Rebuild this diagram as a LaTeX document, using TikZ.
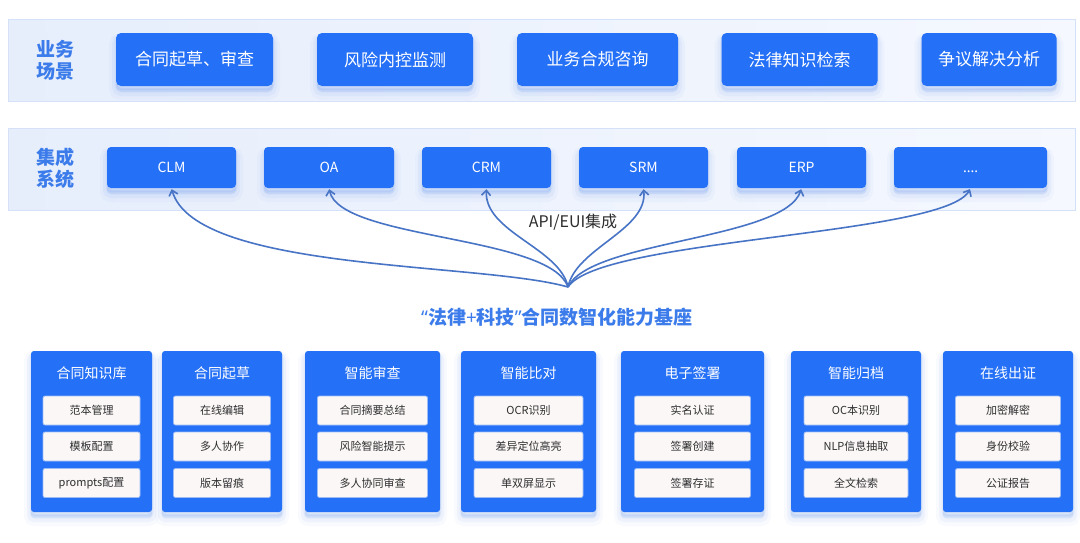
\documentclass[tikz,border=0pt]{standalone}
\usepackage{fontspec}
\setmainfont{Noto Sans CJK SC}
\newfontfamily\latf{Noto Sans}
\usetikzlibrary{arrows.meta}
\definecolor{mainblue}{HTML}{2470F6}
\definecolor{bandfill}{HTML}{E6EEFC}
\definecolor{bandfillr}{HTML}{F5F8FE}
\definecolor{bandline}{HTML}{D5E1F8}
\definecolor{lblue}{HTML}{3B7BEA}
\definecolor{curvec}{HTML}{4874C6}
\definecolor{itemfill}{HTML}{FBF7F7}
\definecolor{itemline}{HTML}{9CBCF5}
\definecolor{txt}{HTML}{2E2E2E}
\definecolor{glowc}{HTML}{2F6FE8}
\tikzset{
 glow/.style={
   preaction={draw=glowc, fill=glowc, line width=14pt, opacity=0.03, transform canvas={yshift=-7pt}},
   preaction={draw=glowc, fill=glowc, line width=8pt, opacity=0.05, transform canvas={yshift=-6pt}},
   preaction={draw=glowc, fill=glowc, line width=3pt, opacity=0.07, transform canvas={yshift=-4pt}}},
 scen/.style={glow, fill=mainblue, rounded corners=5pt, text=white, font=\fontsize{17}{20}\selectfont, inner sep=0pt, minimum height=53pt},
 sys/.style={glow, fill=mainblue, rounded corners=4pt, text=white, font=\fontsize{14}{16}\selectfont, inner sep=0pt, minimum height=41pt},
 band/.style={draw=bandline, line width=1.2pt, left color=bandfill, right color=bandfillr, inner sep=0pt},
 lbl/.style={text=lblue, font=\bfseries\fontsize{19}{22}\selectfont, align=center},
 colbox/.style={glow, fill=mainblue, rounded corners=3pt, inner sep=0pt, minimum height=161pt},
 coltitle/.style={text=white, font=\fontsize{14}{16}\selectfont, inner sep=0pt},
 itembox/.style={fill=itemfill, draw=itemline, line width=0.8pt, rounded corners=2pt, text=txt, font=\fontsize{11}{13}\selectfont, inner sep=0pt, minimum height=29pt},
 conn/.style={draw=curvec, line width=1.6pt, shorten >=1pt, -{Straight Barb[length=5pt,width=9pt]}},
}
\begin{document}
\begin{tikzpicture}[x=1pt,y=-1pt]
\useasboundingbox (0,0) rectangle (1080,542);
\fill[white] (0,0) rectangle (1080,542);
% bands
\node[band, minimum width=1067pt, minimum height=82pt, anchor=north west] (band1) at (8,19) {};
\node[band, minimum width=1067pt, minimum height=82pt, anchor=north west] (band2) at (8,128) {};
\node[lbl] (l1) at (55,60) {业务\\场景};
\node[lbl] (l2) at (55,168) {集成\\系统};
% scenarios
\node[scen, minimum width=157pt] (s1) at (194.5,59.5) {合同起草、审查};
\node[scen, minimum width=156pt] (s2) at (395,59.5) {风险内控监测};
\node[scen, minimum width=161pt] (s3) at (597.5,59.5) {业务合规咨询};
\node[scen, minimum width=156pt] (s4) at (799.5,59.5) {法律知识检索};
\node[scen, minimum width=135pt] (s5) at (989,59.5) {争议解决分析};
% systems
\node[sys, minimum width=129pt] (clm) at (171.5,167.5) {CLM};
\node[sys, minimum width=130pt] (oa) at (329,167.5) {OA};
\node[sys, minimum width=129pt] (crm) at (486.5,167.5) {CRM};
\node[sys, minimum width=129pt] (srm) at (643.5,167.5) {SRM};
\node[sys, minimum width=129pt] (erp) at (801.5,167.5) {ERP};
\node[sys, minimum width=153pt] (more) at (970.5,167.5) {\vphantom{CLM}{\latf ....}};
% connectors
\coordinate (hub) at (568,287);
\draw[conn] (hub) .. controls (480,262) and (195,272) .. (clm.south);
\draw[conn] (hub) .. controls (550,235) and (340,240) .. (oa.south);
\draw[conn] (hub) .. controls (560,248) and (484,232) .. (crm.south);
\draw[conn] (hub) .. controls (576,248) and (648,230) .. (srm.south);
\draw[conn] (hub) .. controls (590,240) and (785,240) .. (erp.south);
\draw[conn] (hub) .. controls (600,238) and (945,236) .. (more.south);
\node[text=txt, font=\fontsize{16}{19}\selectfont] (api) at (573,222) {API/EUI集成};
\node[text=lblue, font=\bfseries\fontsize{19}{22}\selectfont] (title) at (557,317) {{\latf “}法律{\latf +}科技{\latf ”}合同数智化能力基座};
% capability columns
\foreach \n/\cx/\w/\iw/\t/\a/\b/\c in {
 1/91.5/121/97/合同知识库/范本管理/模板配置/prompts配置,
 2/222/120/97/合同起草/在线编辑/多人协作/版本留痕,
 3/372.5/135/110/智能审查/合同摘要总结/风险智能提示/多人协同审查,
 4/528.5/135/109/智能比对/OCR识别/差异定位高亮/单双屏显示,
 5/692.5/143/116/电子签署/实名认证/签署创建/签署存证,
 6/856/130/104/智能归档/OC本识别/NLP信息抽取/全文检索,
 7/1008/130/105/在线出证/加密解密/身份校验/公证报告}{
 \node[colbox, minimum width=\w pt] (col\n) at (\cx,431.5) {};
 \node[coltitle] (t\n) at (\cx,373) {\t};
 \node[itembox, minimum width=\iw pt] (i\n-a) at (\cx,410.5) {\a};
 \node[itembox, minimum width=\iw pt] (i\n-b) at (\cx,446.5) {\b};
 \node[itembox, minimum width=\iw pt] (i\n-c) at (\cx,483) {\c};
}
\end{tikzpicture}
\end{document}
